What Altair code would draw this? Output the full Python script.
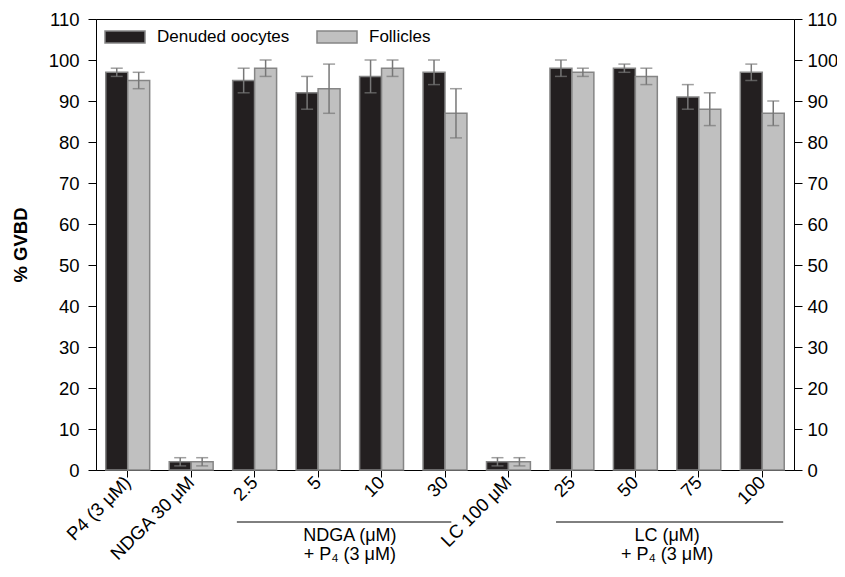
import altair as alt
import pandas as pd

categories = ["P4 (3 μM)", "NDGA 30 μM", "2.5", "5", "10", "30",
              "LC 100 μM", "25", "50", "75", "100"]
series = ["Denuded oocytes", "Follicles"]
denuded = [97, 2, 95, 92, 96, 97, 2, 98, 98, 91, 97]
denuded_err = [1, 1, 3, 4, 4, 3, 1, 2, 1, 3, 2]
follicles = [95, 2, 98, 93, 98, 87, 2, 97, 96, 88, 87]
follicles_err = [2, 1, 2, 6, 2, 6, 1, 1, 2, 4, 3]
y_ticks = list(range(0, 111, 10))

group_labels = ["NDGA (μM)\n+ P₄ (3 μM)", "LC (μM)\n+ P₄ (3 μM)"]
group_start = ["2.5", "25"]
group_end = ["30", "100"]
group_mid = ["10", "75"]

rows = []
for i, c in enumerate(categories):
    rows.append({"cat": c, "series": series[0], "value": denuded[i],
                 "lo": denuded[i] - denuded_err[i], "hi": denuded[i] + denuded_err[i]})
    rows.append({"cat": c, "series": series[1], "value": follicles[i],
                 "lo": follicles[i] - follicles_err[i], "hi": follicles[i] + follicles_err[i]})
df = pd.DataFrame(rows)
gdf = pd.DataFrame({"label": group_labels, "start": group_start,
                    "end": group_end, "mid": group_mid})

FONT = "Liberation Sans"
YFS = 18.5
XFS = 18.5

xscale = alt.Scale(domain=categories, paddingInner=0, paddingOuter=0)
x_axis = alt.Axis(title=None, labelAngle=-45, labelAlign="right", labelBaseline="middle",
                  labelPadding=2, tickSize=7, labelFontSize=XFS, labelFont=FONT)
x = alt.X("cat:N", sort=categories, scale=xscale, axis=x_axis)
xo = alt.XOffset("series:N", sort=series,
                 scale=alt.Scale(domain=series, paddingInner=0, paddingOuter=0.445))
yscale = alt.Scale(domain=[0, 110], nice=False, zero=True)
y_axis = alt.Axis(values=y_ticks, title="% GVBD", orient="left", grid=False,
                  tickSize=8, labelPadding=9, labelFontSize=YFS, labelFont=FONT,
                  titleFont=FONT, titleFontSize=YFS, titleFontWeight="bold",
                  titleAngle=-90, titleX=-76, titleY=225.5,
                  titleAlign="center", titleBaseline="middle")
y_left = alt.Y("value:Q", scale=yscale, axis=y_axis)

bars = alt.Chart(df).mark_bar(stroke="#858585", strokeWidth=1.5).encode(
    x=x, xOffset=xo, y=y_left,
    fill=alt.Fill("series:N", sort=series,
                  scale=alt.Scale(domain=series, range=["#231f20", "#c0c0c0"]),
                  legend=alt.Legend(title=None, orient="none", direction="horizontal",
                                    legendX=8, legendY=-3, padding=0,
                                    symbolType="M-1,-0.3H1V0.3H-1Z", symbolSize=1600,
                                    symbolStrokeColor="#858585", symbolStrokeWidth=1.5,
                                    labelOffset=11, columnPadding=24, labelLimit=400,
                                    labelFont=FONT, labelFontSize=17, labelColor="black")),
)

err_color = "#777777"
rules = alt.Chart(df).mark_rule(color=err_color, strokeWidth=1.5).encode(
    x=x, xOffset=xo, y=alt.Y("lo:Q", scale=yscale, axis=y_axis), y2="hi:Q")
cap_lo = alt.Chart(df).mark_tick(color=err_color, thickness=1.5, size=12).encode(
    x=x, xOffset=xo, y=alt.Y("lo:Q", scale=yscale, axis=y_axis))
cap_hi = alt.Chart(df).mark_tick(color=err_color, thickness=1.5, size=12).encode(
    x=x, xOffset=xo, y=alt.Y("hi:Q", scale=yscale, axis=y_axis))

glines = []
for i in range(len(group_labels)):
    sub = gdf.iloc[[i]]
    bp0 = 0.22 if i == 0 else 0.25
    bp1 = 0.6 if i == 0 else 0.83
    glines.append(alt.Chart(sub).mark_rule(color="black", strokeWidth=1).encode(
        x=alt.X("start:N", scale=xscale, axis=x_axis, bandPosition=bp0),
        x2=alt.X2("end:N", bandPosition=bp1),
        y=alt.value(503)))
gtext = alt.Chart(gdf).mark_text(font=FONT, fontSize=18, lineBreak="\n", lineHeight=19,
                                 align="center", baseline="alphabetic", color="black").encode(
    x=alt.X("mid:N", scale=xscale, axis=x_axis, bandPosition=0),
    y=alt.value(522), text="label:N")

main = alt.layer(bars, rules, cap_lo, cap_hi, *glines, gtext)

right = alt.Chart(df).mark_point(opacity=0).encode(
    x=x,
    y=alt.Y("value:Q", scale=yscale,
            axis=alt.Axis(values=y_ticks, title=None, orient="right", grid=False,
                          tickSize=8, labelPadding=5, labelFontSize=YFS, labelFont=FONT)))

chart = alt.layer(main, right).resolve_scale(y="independent").properties(
    width=698, height=451,
    autosize=alt.AutoSizeParams(type="none"),
    padding={"left": 88, "top": 11, "right": 43, "bottom": 94},
).configure_view(stroke="black", strokeWidth=1).configure_axis(
    domainColor="black", tickColor="black", labelColor="black", titleColor="black",
    domainWidth=1, tickWidth=1)

chart.save("out.html", embed_options={"renderer": "svg", "actions": False})
